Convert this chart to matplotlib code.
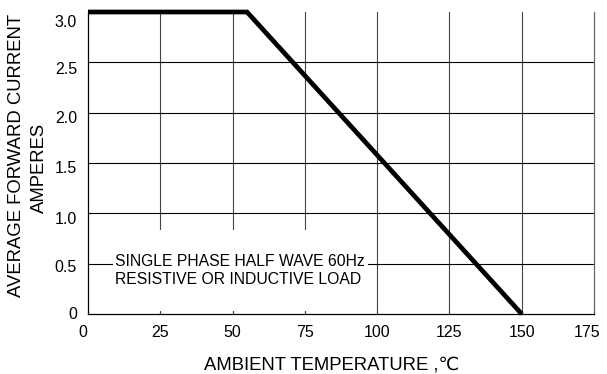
import numpy as np
import matplotlib
matplotlib.use("Agg")
import matplotlib.pyplot as plt
from matplotlib.patches import Rectangle
from matplotlib.transforms import ScaledTranslation

plt.rcParams['font.family'] = ['Liberation Sans', 'DejaVu Sans']

# кривая снижения тока
temp = [0, 55, 150]
current = [3.0, 3.0, 0.0]

xticks = [0, 25, 50, 75, 100, 125, 150, 175]
yticks = [0, 0.5, 1.0, 1.5, 2.0, 2.5, 3.0]
ytick_labels = ['0', '0.5', '1.0', '1.5', '2.0', '2.5', '3.0']

fig = plt.figure(figsize=(6.07, 3.74), dpi=100)
ax = fig.add_axes([88/607, 1 - 314/374, (594 - 88)/607, (314 - 12)/374])

ax.set_xlim(0, 175)
ax.set_ylim(0, 3.0)

# сетка
for xv in xticks[1:-1]:
    ax.axvline(xv, color='#444444', lw=0.8, zorder=1)
for yv in yticks[1:-1]:
    ax.axhline(yv, color='black', lw=0.8, zorder=1)

# белая подложка под надписью
ax.add_patch(Rectangle((8.6, 0.03), 96.8 - 8.6, 0.835 - 0.03,
                       facecolor='white', edgecolor='none', zorder=2))
ax.text(9.3, 0.52, 'SINGLE PHASE HALF WAVE 60Hz', fontsize=11.3,
        va='center', ha='left', zorder=3)
ax.text(9.3, 0.34, 'RESISTIVE OR INDUCTIVE LOAD', fontsize=11.3,
        va='center', ha='left', zorder=3)

ax.plot(temp, current, color='black', lw=3.4, solid_capstyle='butt',
        solid_joinstyle='miter', zorder=4, clip_on=False)

for s in ['left', 'bottom']:
    ax.spines[s].set_color('black')
    ax.spines[s].set_linewidth(0.9)
for s in ['right']:
    ax.spines[s].set_color('#666666')
    ax.spines[s].set_linewidth(0.9)
ax.spines['top'].set_visible(False)

ax.set_xticks(xticks)
ax.set_xticklabels([str(v) for v in xticks])
ax.set_yticks(yticks)
ax.set_yticklabels(ytick_labels)
ax.tick_params(axis='x', direction='in', length=3, width=0.8, pad=8,
               labelsize=11.5, color='#444444')
ax.tick_params(axis='y', direction='in', length=0, pad=8, labelsize=11.5)

# небольшие смещения подписей как в оригинале
xl = ax.get_xticklabels()
xl[0].set_transform(xl[0].get_transform() + ScaledTranslation(-5/100, 0, fig.dpi_scale_trans))
xl[-1].set_transform(xl[-1].get_transform() + ScaledTranslation(-7/100, 0, fig.dpi_scale_trans))
y_shift = [1, -2, -5, -4, -4, -6, -9]
for lab, dy in zip(ax.get_yticklabels(), y_shift):
    lab.set_transform(lab.get_transform() + ScaledTranslation(0, dy/100, fig.dpi_scale_trans))

fig.text(17/607, 1 - 155/374, 'AVERAGE FORWARD CURRENT', rotation=90,
         ha='center', va='center', fontsize=13.3)
fig.text(39/607, 1 - 168/374, 'AMPERES', rotation=90,
         ha='center', va='center', fontsize=13.3)
fig.text(332/607, 1 - 365/374, 'AMBIENT TEMPERATURE ,\u2103',
         ha='center', va='center', fontsize=13.3)

fig.savefig('out.png', dpi=100)
